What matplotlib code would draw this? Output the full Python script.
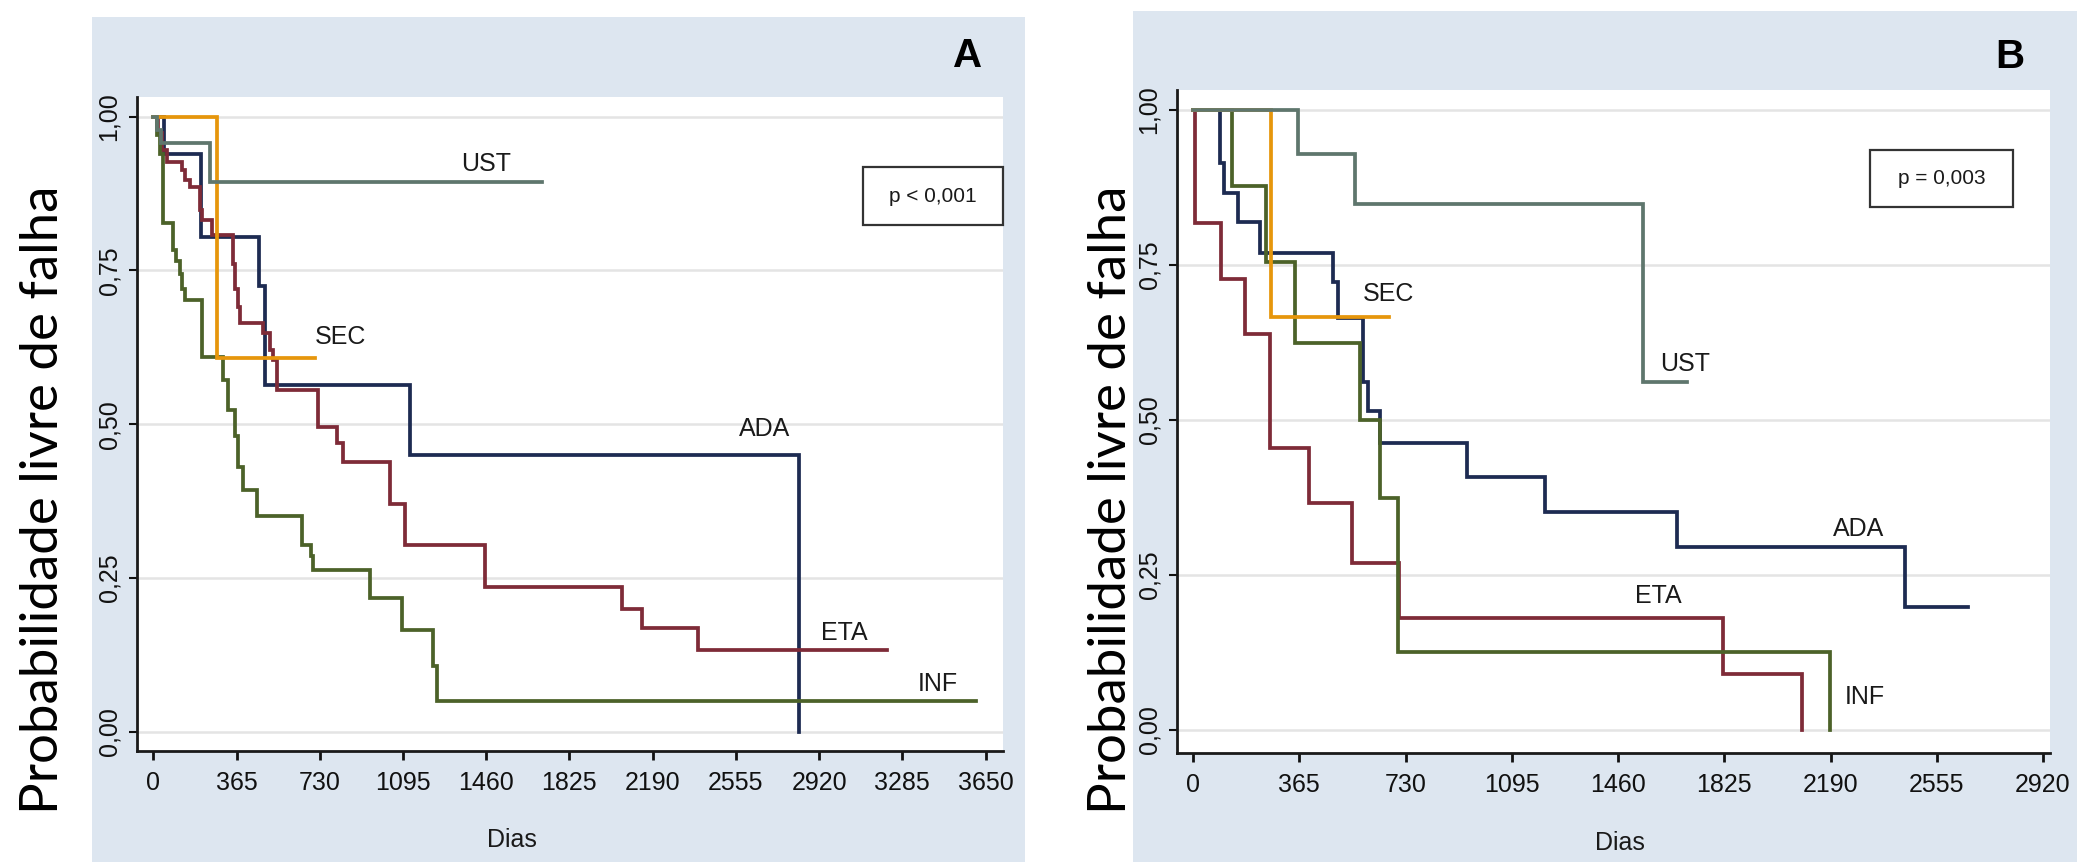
import matplotlib
matplotlib.use('Agg')
import matplotlib.pyplot as plt
from matplotlib.patches import Rectangle

"""
Curvas de Kaplan-Meier: probabilidade livre de falha por biológico (A e B)
"""

# ---------------- dados painel A ----------------
a_ada_t = [0, 45, 209, 465, 489, 1126, 2832]
a_ada_s = [1.0, 0.94, 0.805, 0.724, 0.564, 0.45, 0.0]
a_ada_fim = 2832

a_eta_t = [0, 20, 40, 60, 124, 140, 161, 205, 212, 256, 351, 360, 372, 380,
           481, 512, 526, 541, 723, 804, 833, 1038, 1104, 1455, 2054, 2142, 2390]
a_eta_s = [1.0, 0.973, 0.946, 0.927, 0.913, 0.897, 0.886, 0.848, 0.832, 0.808, 0.76, 0.72, 0.691, 0.664,
           0.648, 0.62, 0.604, 0.556, 0.496, 0.469, 0.439, 0.371, 0.304, 0.236, 0.20, 0.168, 0.133]
a_eta_fim = 3220

a_inf_t = [0, 15, 30, 44, 88, 100, 117, 125, 139, 212, 307, 329, 358, 373, 395,
           453, 651, 690, 702, 950, 1089, 1228, 1245]
a_inf_s = [1.0, 0.97, 0.94, 0.827, 0.783, 0.765, 0.745, 0.72, 0.702, 0.61, 0.572, 0.523, 0.48, 0.431, 0.393,
           0.35, 0.304, 0.285, 0.263, 0.217, 0.165, 0.106, 0.05]
a_inf_fim = 3610

a_sec_t = [0, 281]
a_sec_s = [1.0, 0.607]
a_sec_fim = 709

a_ust_t = [0, 15, 35, 249]
a_ust_s = [1.0, 0.978, 0.957, 0.894]
a_ust_fim = 1703

# ---------------- dados painel B ----------------
b_ada_t = [0, 93, 106, 156, 230, 480, 499, 585, 602, 642, 940, 1209, 1663, 2446]
b_ada_s = [1.0, 0.913, 0.865, 0.819, 0.768, 0.722, 0.663, 0.561, 0.513, 0.462, 0.407, 0.351, 0.295, 0.198]
b_ada_fim = 2663

b_eta_t = [0, 7, 95, 179, 264, 400, 545, 709, 1821, 2092]
b_eta_s = [1.0, 0.817, 0.727, 0.638, 0.454, 0.365, 0.269, 0.18, 0.09, 0.0]
b_eta_fim = 2092

b_inf_t = [0, 133, 251, 350, 574, 642, 705, 2188]
b_inf_s = [1.0, 0.876, 0.754, 0.623, 0.50, 0.373, 0.125, 0.0]
b_inf_fim = 2188

b_sec_t = [0, 267]
b_sec_s = [1.0, 0.665]
b_sec_fim = 673

b_ust_t = [0, 361, 556, 1546]
b_ust_s = [1.0, 0.929, 0.847, 0.56]
b_ust_fim = 1696

grupos = ['ADA', 'ETA', 'INF', 'SEC', 'UST']
y_ticks = [0, 0.25, 0.5, 0.75, 1.0]
y_labels = ['0,00', '0,25', '0,50', '0,75', '1,00']
a_x_ticks = list(range(0, 3651, 365))
b_x_ticks = list(range(0, 2921, 365))

# cores (esquema s2color do Stata, um pouco escurecido)
cores = {'ADA': '#1d2b52', 'ETA': '#7e2b38', 'INF': '#4c6229',
         'SEC': '#e6960c', 'UST': '#5f766d'}

W, H = 2083, 867
AZUL = '#dde6f0'


def fx(x):
    return x / W


def fy(y):
    return 1 - y / H


def curva(ax, t, s, fim, cor):
    """desenha uma curva em degraus"""
    xs = list(t)
    ys = list(s)
    if fim > xs[-1]:
        xs.append(fim)
        ys.append(ys[-1])
    ax.step(xs, ys, where='post', color=cor, lw=2.7, solid_joinstyle='miter', zorder=3)


def painel(fig, caixa, xlim, ylim, x_ticks):
    """eixo no estilo Stata"""
    l, t, r, b = caixa
    ax = fig.add_axes([fx(l), fy(b), fx(r - l), (b - t) / H])
    ax.set_zorder(2)
    ax.set_facecolor('white')
    ax.set_xlim(*xlim)
    ax.set_ylim(*ylim)
    ax.set_xticks(x_ticks)
    ax.set_xticklabels([str(v) for v in x_ticks])
    ax.set_yticks(y_ticks)
    ax.set_yticklabels(y_labels, rotation=90, va='center')
    ax.yaxis.grid(True, color='#e4e4e4', lw=1.8)
    ax.set_axisbelow(True)
    for lado in ['top', 'right']:
        ax.spines[lado].set_visible(False)
    for lado in ['left', 'bottom']:
        ax.spines[lado].set_color('#1a1a1a')
        ax.spines[lado].set_linewidth(2)
    ax.tick_params(axis='x', length=6.5, width=2, pad=8, labelsize=18, colors='#111111')
    ax.tick_params(axis='y', length=5.5, width=1.5, pad=6, labelsize=18, colors='#111111')
    return ax


plt.rcParams['font.family'] = ['Liberation Sans', 'DejaVu Sans']

fig = plt.figure(figsize=(W / 100, H / 100), dpi=100)
fig.patch.set_facecolor('white')

# fundos azulados dos dois painéis
fig.patches.append(Rectangle((fx(92), fy(862)), fx(1025 - 92), (862 - 17) / H,
                             transform=fig.transFigure, facecolor=AZUL, edgecolor='none', zorder=-5))
fig.patches.append(Rectangle((fx(1133), fy(862)), fx(2077 - 1133), (862 - 11) / H,
                             transform=fig.transFigure, facecolor=AZUL, edgecolor='none', zorder=-5))

# ---------------- painel A ----------------
ax_a = painel(fig, (137, 97, 1003, 751), (-71.5, 3726.7), (-0.0314, 1.032), a_x_ticks)
dados_a = {'ADA': (a_ada_t, a_ada_s, a_ada_fim), 'ETA': (a_eta_t, a_eta_s, a_eta_fim),
           'INF': (a_inf_t, a_inf_s, a_inf_fim), 'SEC': (a_sec_t, a_sec_s, a_sec_fim),
           'UST': (a_ust_t, a_ust_s, a_ust_fim)}
for g in grupos:
    t, s, fim = dados_a[g]
    curva(ax_a, t, s, fim, cores[g])
pos_a = {'UST': (1458, 0.923), 'SEC': (823, 0.642), 'ADA': (2679, 0.492),
         'ETA': (3029, 0.160), 'INF': (3441, 0.078)}
for g in grupos:
    ax_a.text(*pos_a[g], g, fontsize=18, ha='center', va='center', color='#1a1a1a', zorder=4)

# ---------------- painel B ----------------
ax_b = painel(fig, (1177, 90, 2050, 753), (-55, 2944), (-0.0379, 1.0315), b_x_ticks)
dados_b = {'ADA': (b_ada_t, b_ada_s, b_ada_fim), 'ETA': (b_eta_t, b_eta_s, b_eta_fim),
           'INF': (b_inf_t, b_inf_s, b_inf_fim), 'SEC': (b_sec_t, b_sec_s, b_sec_fim),
           'UST': (b_ust_t, b_ust_s, b_ust_fim)}
for g in grupos:
    t, s, fim = dados_b[g]
    curva(ax_b, t, s, fim, cores[g])
pos_b = {'SEC': (673, 0.702), 'UST': (1690, 0.590), 'ADA': (2288, 0.323),
         'ETA': (1597, 0.215), 'INF': (2308, 0.052)}
for g in grupos:
    ax_b.text(*pos_b[g], g, fontsize=18, ha='center', va='center', color='#1a1a1a', zorder=4)

# rótulos dos eixos
for xc in [44, 1112]:
    fig.text(fx(xc), fy(500), 'Probabilidade livre de falha', rotation=90,
             ha='center', va='center', fontsize=38, family=['Lato', 'DejaVu Sans'], color='black')
fig.text(fx(512), fy(840), 'Dias', ha='center', va='center', fontsize=18, color='#1a1a1a')
fig.text(fx(1620), fy(843), 'Dias', ha='center', va='center', fontsize=18, color='#1a1a1a')

# letras dos painéis
fig.text(fx(968), fy(56), 'A', ha='center', va='center', fontsize=29, weight='bold')
fig.text(fx(2010), fy(57), 'B', ha='center', va='center', fontsize=29, weight='bold')

# caixas com o valor de p
for (x0, y0, x1, y1, txt) in [(863, 167, 1003, 225, 'p < 0,001'), (1870, 150, 2013, 207, 'p = 0,003')]:
    fig.patches.append(Rectangle((fx(x0), fy(y1)), fx(x1 - x0), (y1 - y0) / H,
                                 transform=fig.transFigure, facecolor='white',
                                 edgecolor='#333333', lw=1.6, zorder=5))
    fig.text(fx((x0 + x1) / 2), fy((y0 + y1) / 2), txt, ha='center', va='center',
             fontsize=15, color='#1a1a1a', zorder=6)

fig.savefig('out.png', dpi=100, facecolor='white')
